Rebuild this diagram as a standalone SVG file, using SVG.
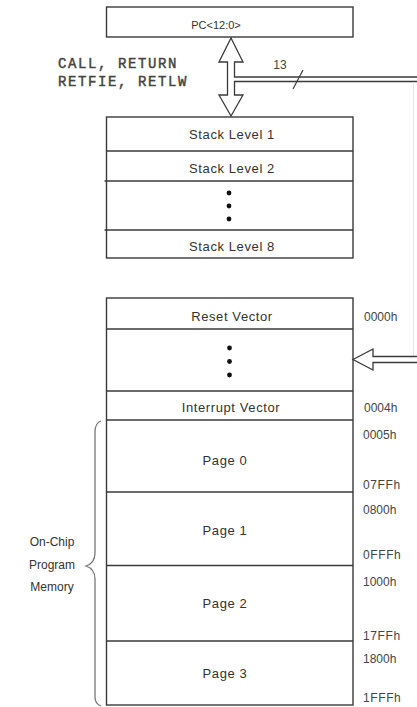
<svg xmlns="http://www.w3.org/2000/svg" width="417" height="707" viewBox="0 0 417 707">
  <style>
    .box { fill: #ffffff; stroke: #3a3a3a; stroke-width: 1.4; }
    .sep { stroke: #3a3a3a; stroke-width: 1.4; }
    .lbl { font-family: "Liberation Sans", Arial, sans-serif; font-size: 13px; fill: #333; text-anchor: middle; letter-spacing: 0.6px; }
    .addr { font-family: "Liberation Sans", Arial, sans-serif; font-size: 12px; fill: #444; }
    .side { font-family: "Liberation Sans", Arial, sans-serif; font-size: 12px; fill: #333; text-anchor: middle; }
    .mono { font-family: "Liberation Mono", "Courier New", monospace; font-size: 14px; fill: #444; stroke: #444; stroke-width: 0.45; letter-spacing: 1.6px; }
    .bus { fill: #ffffff; stroke: #3a3a3a; stroke-width: 1.3; stroke-linejoin: miter; }
    .dot { fill: #111; }
  </style>

  <!-- Program counter -->
  <g id="pc">
    <rect class="box" x="106.5" y="7" width="246.5" height="30"/>
    <text class="lbl" x="216" y="29" style="font-size:11px;letter-spacing:0">PC&lt;12:0&gt;</text>
  </g>

  <!-- Call/return label -->
  <g id="call-label">
    <text class="mono" x="58" y="68">CALL, RETURN</text>
    <text class="mono" x="58" y="86">RETFIE, RETLW</text>
  </g>

  <!-- Hardware stack -->
  <g id="stack">
    <rect class="box" x="106.5" y="117" width="246.5" height="141"/>
    <line class="sep" x1="106.5" y1="151" x2="353" y2="151"/>
    <line class="sep" x1="104.5" y1="181" x2="353" y2="181"/>
    <line class="sep" x1="104.5" y1="230" x2="353" y2="230"/>
    <text class="lbl" x="232" y="138.5">Stack Level 1</text>
    <text class="lbl" x="232" y="172.5">Stack Level 2</text>
    <circle class="dot" cx="229" cy="193" r="2.4"/>
    <circle class="dot" cx="229" cy="206" r="2.4"/>
    <circle class="dot" cx="229" cy="219" r="2.4"/>
    <text class="lbl" x="232" y="250.5">Stack Level 8</text>
  </g>

  <!-- Program memory map -->
  <g id="memory">
    <rect class="box" x="106.5" y="298" width="246.5" height="407"/>
    <line class="sep" x1="106.5" y1="329" x2="353" y2="329"/>
    <line class="sep" x1="106.5" y1="391" x2="353" y2="391"/>
    <line class="sep" x1="106.5" y1="420" x2="353" y2="420"/>
    <line class="sep" x1="106.5" y1="492" x2="353" y2="492"/>
    <line class="sep" x1="106.5" y1="565.5" x2="353" y2="565.5"/>
    <line class="sep" x1="106.5" y1="641" x2="353" y2="641"/>
    <text class="lbl" x="232" y="320.5">Reset Vector</text>
    <circle class="dot" cx="229.5" cy="348" r="2.4"/>
    <circle class="dot" cx="229.5" cy="361.5" r="2.4"/>
    <circle class="dot" cx="229.5" cy="375" r="2.4"/>
    <text class="lbl" x="231" y="411.5">Interrupt Vector</text>
    <text class="lbl" x="225" y="464.5">Page 0</text>
    <text class="lbl" x="225" y="534.5">Page 1</text>
    <text class="lbl" x="225" y="607.5">Page 2</text>
    <text class="lbl" x="225" y="677.5">Page 3</text>
  </g>

  <!-- Address column -->
  <g id="addresses">
    <text class="addr" x="364" y="321">0000h</text>
    <text class="addr" x="364" y="412">0004h</text>
    <text class="addr" x="363" y="439">0005h</text>
    <text class="addr" x="363" y="489" style="letter-spacing:0.6px">07FFh</text>
    <text class="addr" x="363" y="514">0800h</text>
    <text class="addr" x="363" y="559" style="letter-spacing:0.6px">0FFFh</text>
    <text class="addr" x="363" y="586">1000h</text>
    <text class="addr" x="363" y="640" style="letter-spacing:0.6px">17FFh</text>
    <text class="addr" x="363" y="663">1800h</text>
    <text class="addr" x="363" y="702" style="letter-spacing:0.6px">1FFFh</text>
  </g>

  <!-- On-chip memory brace -->
  <g id="onchip">
    <path d="M101,421 Q95,423 95,432 L95,553 Q95,563 86,566 Q95,569 95,579 L95,697 Q95,704 101,706" fill="none" stroke="#777" stroke-width="1.3"/>
    <text class="side" x="52" y="546">On-Chip</text>
    <text class="side" x="52" y="569">Program</text>
    <text class="side" x="52" y="591">Memory</text>
  </g>

  <!-- Buses -->
  <g id="connectors">
    <!-- 13-bit PC bus: double arrow between PC and stack, branching right -->
    <polygon class="bus" points="231,38 243,62 234.5,62 234.5,77 418,77 418,81.5 234.5,81.5 234.5,95 243,95 231,116 219,95 227.5,95 227.5,62 219,62"/>
    <line x1="293" y1="89" x2="303" y2="70" stroke="#3a3a3a" stroke-width="1.2"/>
    <text class="addr" x="280" y="69" text-anchor="middle" style="font-size:12px">13</text>
    <line x1="413.5" y1="82" x2="413.5" y2="356" stroke="#e6e6e6" stroke-width="1"/>
    <!-- address bus into program memory -->
    <polygon class="bus" points="353,359.5 373,349 373,356.5 418,356.5 418,362.5 373,362.5 373,370"/>
  </g>
</svg>
